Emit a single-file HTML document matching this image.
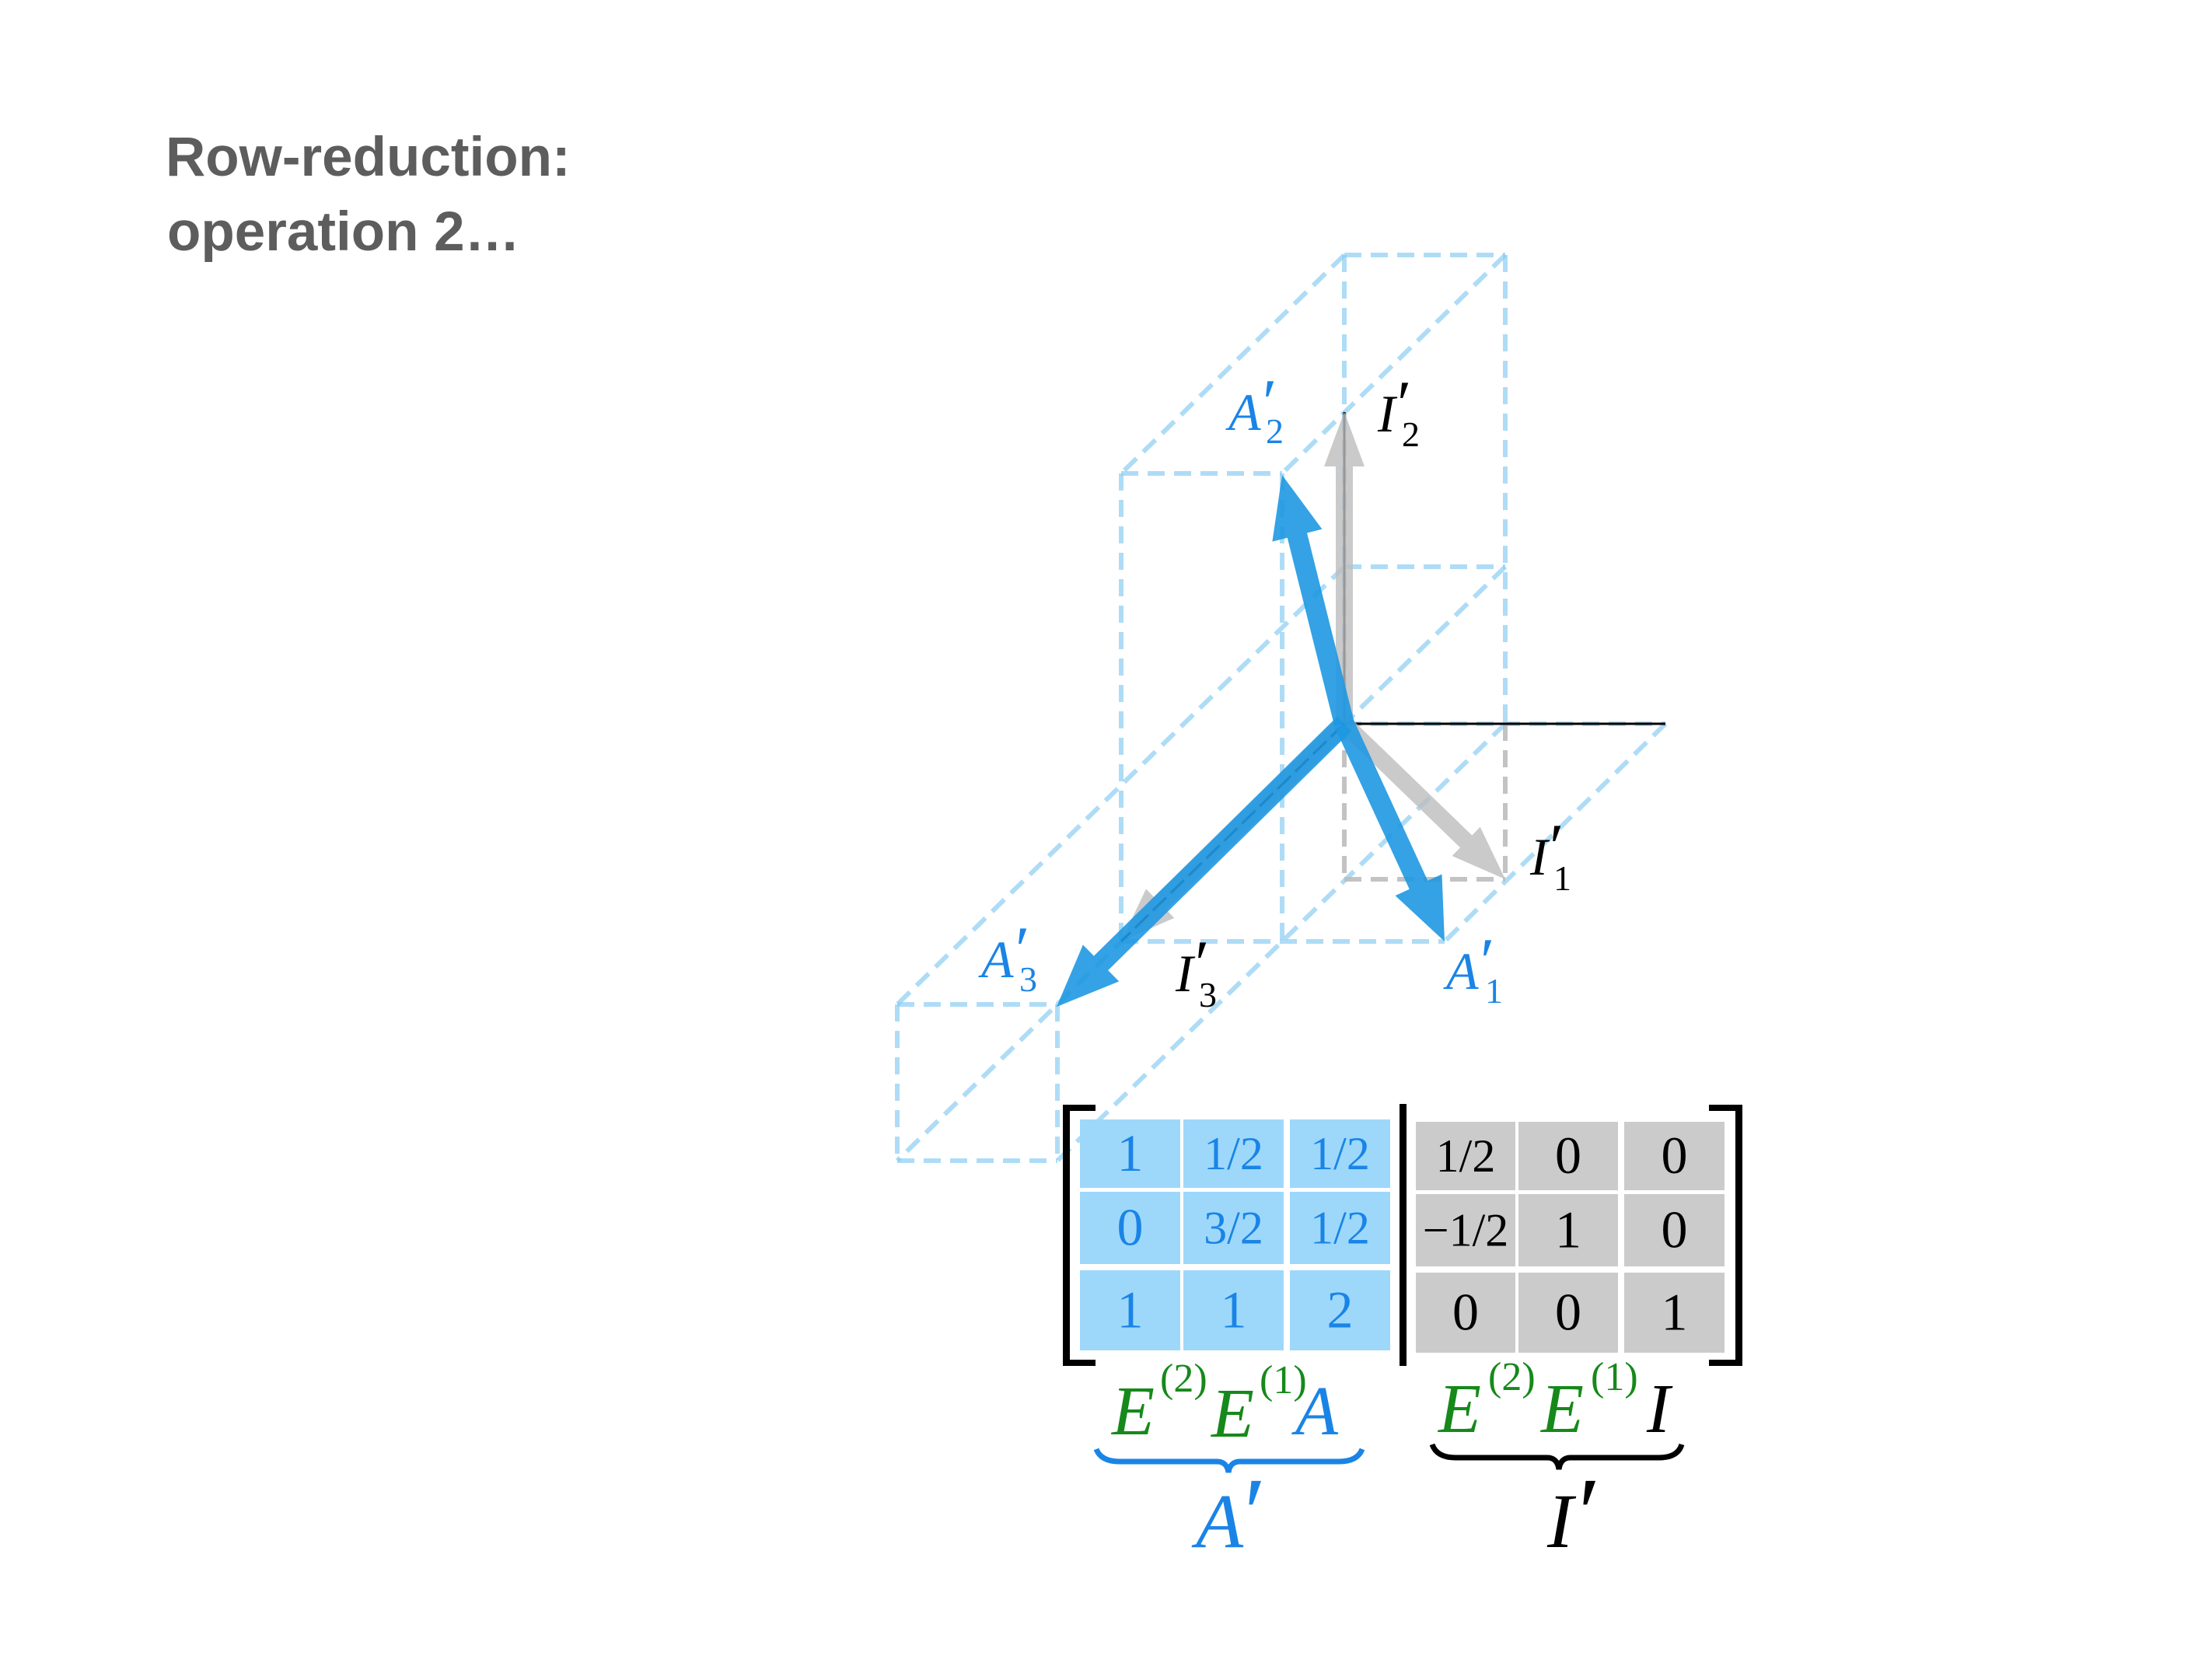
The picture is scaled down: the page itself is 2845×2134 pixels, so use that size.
<!DOCTYPE html>
<html><head><meta charset="utf-8">
<style>
html,body{margin:0;padding:0;background:#fff;}
svg{display:block;}
.t{font-family:"Liberation Sans",sans-serif;font-weight:bold;fill:#5d5d5d;font-size:71px;}
.m{font-family:"Liberation Serif",serif;}
.it{font-style:italic;}
</style></head>
<body>
<svg id="fig" width="2845" height="2134" viewBox="0 0 2845 2134" xmlns="http://www.w3.org/2000/svg">
<rect width="2845" height="2134" fill="#fff"/>
<text class="t" x="213" y="226">Row-reduction:</text>
<text class="t" x="215" y="322">operation 2…</text>
<g id="boxes"></g>
<g id="arrows"></g>
<g class="m">
  <g fill="#1a84e6">
    <text x="1580" y="553" font-size="68" class="it">A</text><text x="1624" y="545" font-size="84">′</text><text x="1628" y="570" font-size="46">2</text></g>
  <g fill="#000">
    <text x="1772" y="555" font-size="68" class="it">I</text><text x="1797" y="547" font-size="84">′</text><text x="1803" y="574" font-size="46">2</text></g>
  <g fill="#000">
    <text x="1968" y="1125" font-size="68" class="it">I</text><text x="1993" y="1117" font-size="84">′</text><text x="1998" y="1145" font-size="46">1</text></g>
  <g fill="#1a84e6">
    <text x="1860" y="1272" font-size="68" class="it">A</text><text x="1904" y="1264" font-size="84">′</text><text x="1910" y="1290" font-size="46">1</text></g>
  <g fill="#1a84e6">
    <text x="1262" y="1257" font-size="68" class="it">A</text><text x="1306" y="1249" font-size="84">′</text><text x="1311" y="1275" font-size="46">3</text></g>
  <g fill="#000">
    <text x="1512" y="1275" font-size="68" class="it">I</text><text x="1537" y="1267" font-size="84">′</text><text x="1542" y="1295" font-size="46">3</text></g>
</g>
<g id="matrix"></g>
<g class="m">
  <g>
    <text x="1430" y="1845" font-size="90" class="it" fill="#16891a">E</text>
    <text x="1492" y="1790" font-size="52" fill="#16891a">(2)</text>
    <text x="1558" y="1848" font-size="90" class="it" fill="#16891a">E</text>
    <text x="1620" y="1792" font-size="52" fill="#16891a">(1)</text>
    <text x="1666" y="1845" font-size="90" class="it" fill="#1a84e6">A</text>
  </g>
  <path d="M1410,1864 Q1416,1880 1440,1880 L1565,1880 Q1578,1880 1580,1894 Q1582,1880 1595,1880 L1722,1880 Q1746,1880 1752,1864" fill="none" stroke="#1a84e6" stroke-width="7"/>
  <g><text x="1538" y="1990" font-size="100" class="it" fill="#1a84e6">A</text><text x="1600" y="1990" font-size="130" fill="#1a84e6">′</text></g>
  <g>
    <text x="1850" y="1842" font-size="90" class="it" fill="#16891a">E</text>
    <text x="1914" y="1788" font-size="52" fill="#16891a">(2)</text>
    <text x="1982" y="1842" font-size="90" class="it" fill="#16891a">E</text>
    <text x="2046" y="1788" font-size="52" fill="#16891a">(1)</text>
    <text x="2118" y="1842" font-size="90" class="it" fill="#000">I</text>
  </g>
  <path d="M1842,1858 Q1848,1875 1872,1875 L1990,1875 Q2003,1875 2005,1890 Q2007,1875 2020,1875 L2134,1875 Q2158,1875 2163,1858" fill="none" stroke="#000" stroke-width="7"/>
  <g><text x="1990" y="1990" font-size="100" class="it" fill="#000">I</text><text x="2030" y="1990" font-size="130" fill="#000">′</text></g>
</g>
</svg>
<script>
const NS='http://www.w3.org/2000/svg';
const blueLines=[
 [1729,328,1936,328],[1729,328,1729,931],[1936,328,1936,931],
 [1729,328,1442,609],[1936,328,1649,609],[1442,609,1649,609],
 [1442,609,1442,1211],[1649,609,1649,1211],[1729,729,1936,729],
 [1729,729,1154,1292],[1936,729,1154,1493],[1936,931,1360,1493],
 [2142,931,1858,1211],[1442,1211,1858,1211],[1729,931,2142,931],
 [1154,1292,1360,1292],[1154,1493,1360,1493],[1154,1292,1154,1493],[1360,1292,1360,1493]
];
const greyLines=[[1729,931,1729,1131],[1936,931,1936,1131],[1729,1131,1936,1131]];
const bx=document.getElementById('boxes');
function seg(p,col,w,op){
 const l=document.createElementNS(NS,'line');
 l.setAttribute('x1',p[0]);l.setAttribute('y1',p[1]);l.setAttribute('x2',p[2]);l.setAttribute('y2',p[3]);
 l.setAttribute('stroke',col);l.setAttribute('stroke-width',w);l.setAttribute('stroke-dasharray','22 12');l.setAttribute('stroke-opacity',op);
 
 
 bx.appendChild(l);
}
blueLines.forEach(p=>seg(p,'#8ccdf2',6,0.7));
greyLines.forEach(p=>seg(p,'#bdbdbd',6,0.9));
[[1729,931,2142,931],[1729,931,1729,530]].forEach(p=>{
 const l=document.createElementNS(NS,'line');
 l.setAttribute('x1',p[0]);l.setAttribute('y1',p[1]);l.setAttribute('x2',p[2]);l.setAttribute('y2',p[3]);
 l.setAttribute('stroke','#000');l.setAttribute('stroke-width',3);
 
 
 bx.appendChild(l);
});
const origin=[1729,931];
const greyTips=[[1936,1131],[1729,530],[1442,1211]];
const blueTips=[[1858,1211],[1649,611],[1359,1295]];
const ar=document.getElementById('arrows');
function arrow(t,w,hl,hw,col,op,name){
 const dx=t[0]-origin[0],dy=t[1]-origin[1],L=Math.hypot(dx,dy),ux=dx/L,uy=dy/L,nx=-uy,ny=ux;
 const bxp=t[0]-ux*hl,byp=t[1]-uy*hl;
 const pts=[[origin[0]+nx*w/2,origin[1]+ny*w/2],[bxp+nx*w/2,byp+ny*w/2],[bxp+nx*hw/2,byp+ny*hw/2],t,
  [bxp-nx*hw/2,byp-ny*hw/2],[bxp-nx*w/2,byp-ny*w/2],[origin[0]-nx*w/2,origin[1]-ny*w/2]];
 const p=document.createElementNS(NS,'polygon');
 p.setAttribute('points',pts.map(q=>q.join(',')).join(' '));
 p.setAttribute('fill',col);p.setAttribute('fill-opacity',op);
 
 
 ar.appendChild(p);
}
greyTips.forEach((t,i)=>arrow(t,22,70,52,'#bdbdbd',0.8,'arrow-i'+(i+1)));
const d3=document.createElementNS(NS,'line');
d3.setAttribute('x1',1729);d3.setAttribute('y1',931);d3.setAttribute('x2',1442);d3.setAttribute('y2',1211);
d3.setAttribute('stroke','#000');d3.setAttribute('stroke-width',3);d3.setAttribute('stroke-dasharray','24 8');


ar.appendChild(d3);
blueTips.forEach((t,i)=>arrow(t,26,80,66,'#1e98e2',0.9,'arrow-a'+(i+1)));
const aVals=[['1','1/2','1/2'],['0','3/2','1/2'],['1','1','2']];
const iVals=[['1/2','0','0'],['−1/2','1','0'],['0','0','1']];
const aCols=[[1389,1518],[1522,1651],[1659,1788]],aRows=[[1440,1528],[1533,1626],[1634,1737]];
const iCols=[[1821,1949],[1953,2081],[2089,2218]],iRows=[[1443,1531],[1536,1629],[1637,1740]];
const mx=document.getElementById('matrix');
function cell(c,r,txt,fill,tcol,name){
 const g=document.createElementNS(NS,'g');
 
 
 const rc=document.createElementNS(NS,'rect');
 rc.setAttribute('x',c[0]);rc.setAttribute('y',r[0]);rc.setAttribute('width',c[1]-c[0]);rc.setAttribute('height',r[1]-r[0]);rc.setAttribute('fill',fill);
 g.appendChild(rc);
 const t=document.createElementNS(NS,'text');
 t.setAttribute('x',(c[0]+c[1])/2);t.setAttribute('y',(r[0]+r[1])/2+(txt.length>1?20:22));
 t.setAttribute('text-anchor','middle');t.setAttribute('fill',tcol);
 t.setAttribute('font-family','"Liberation Serif",serif');t.setAttribute('font-size',txt.length>1?60:68);
 t.textContent=txt;g.appendChild(t);mx.appendChild(g);
}
aVals.forEach((row,r)=>row.forEach((v,c)=>cell(aCols[c],aRows[r],v,'#9dd8fb','#1a84e6','a-cell')));
iVals.forEach((row,r)=>row.forEach((v,c)=>cell(iCols[c],iRows[r],v,'#cbcbcb','#000','i-cell')));
function rect(x,y,w,h,name){
 const rc=document.createElementNS(NS,'rect');
 rc.setAttribute('x',x);rc.setAttribute('y',y);rc.setAttribute('width',w);rc.setAttribute('height',h);rc.setAttribute('fill','#000');
 
 
 mx.appendChild(rc);
}
rect(1367,1421,9,336,'left-bracket');rect(1367,1421,42,8,'left-bracket-top');rect(1367,1749,42,8,'left-bracket-bottom');
rect(1800,1420,9,337,'augment-divider');
rect(2232,1421,9,336,'right-bracket');rect(2198,1421,43,8,'right-bracket-top');rect(2198,1749,43,8,'right-bracket-bottom');
</script>
</body></html>
